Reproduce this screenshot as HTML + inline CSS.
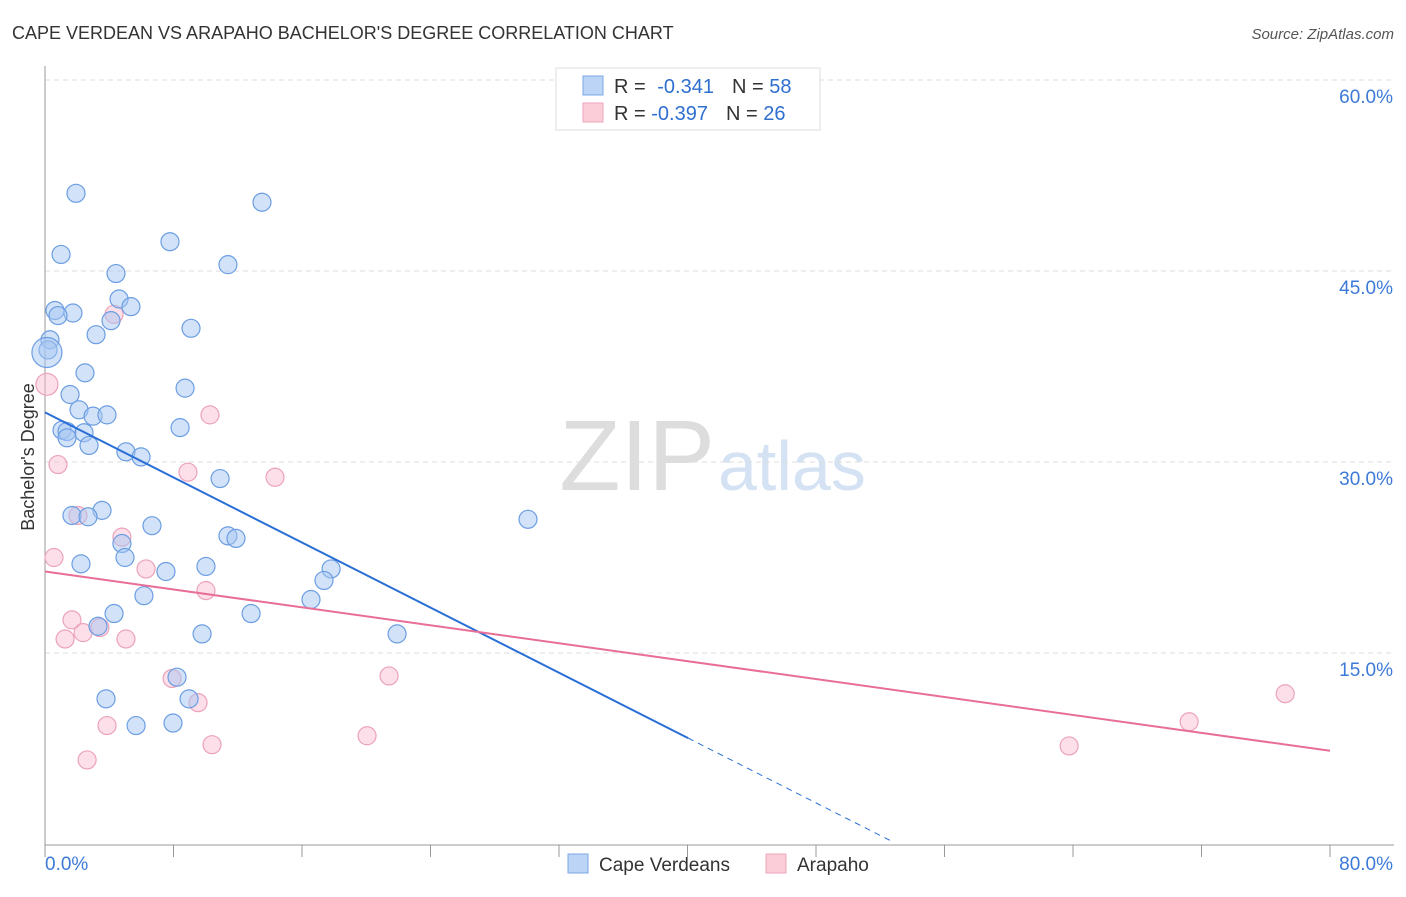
<!DOCTYPE html>
<html><head><meta charset="utf-8"><style>
body{margin:0;background:#fff;font-family:"Liberation Sans",sans-serif}
svg text{font-family:"Liberation Sans",sans-serif}
</style></head><body>
<svg id="chart" width="1406" height="892" viewBox="0 0 1406 892">
<text x="12" y="39" font-size="18" fill="#333">CAPE VERDEAN VS ARAPAHO BACHELOR'S DEGREE CORRELATION CHART</text>
<text x="1394" y="39" font-size="15" fill="#555" font-style="italic" text-anchor="end">Source: ZipAtlas.com</text>
<text x="715" y="490" font-size="100" fill="#ddd" text-anchor="end" font-family="Liberation Serif">ZIP</text>
<text x="718" y="490" font-size="70" fill="#d4e2f4">atlas</text>
<text transform="translate(34,457) rotate(-90)" font-size="18" fill="#333" text-anchor="middle">Bachelor's Degree</text>
<g id="grid"></g><g id="marks"></g>
<g>
<rect x="556" y="68" width="264" height="62" fill="#fff" stroke="#ddd"/>
<rect x="583" y="76" width="20" height="19" fill="#bcd4f6" stroke="#7aa8e6"/>
<rect x="583" y="103" width="20" height="19" fill="#fbcdd9" stroke="#eea6bc"/>
<text x="614" y="93" font-size="20" fill="#333">R = <tspan dx="6" fill="#2f6fd0">-0.341</tspan><tspan dx="18">N = </tspan><tspan fill="#2f6fd0">58</tspan></text>
<text x="614" y="120" font-size="20" fill="#333">R = <tspan fill="#2f6fd0">-0.397</tspan><tspan dx="18">N = </tspan><tspan fill="#2f6fd0">26</tspan></text>
</g>
<g>
<rect x="568" y="854" width="20" height="19" fill="#bcd4f6" stroke="#7aa8e6"/>
<text x="599" y="871" font-size="19" fill="#333">Cape Verdeans</text>
<rect x="766" y="854" width="20" height="19" fill="#fbcdd9" stroke="#eea6bc"/>
<text x="797" y="871" font-size="19" fill="#333">Arapaho</text>
</g>
</svg>
<script>
const blueX=[1.93,13.51,1.0,7.78,4.42,11.39,0.62,1.74,0.81,4.61,5.35,4.11,3.18,9.09,0.31,0.19,0.12,2.49,8.72,1.56,2.12,2.99,3.86,1.06,1.37,8.41,2.43,2.74,1.37,5.04,5.98,10.9,3.55,1.68,2.68,6.66,30.07,11.39,11.89,4.79,4.98,2.24,7.53,10.02,17.81,17.37,6.16,16.56,4.30,12.83,3.30,9.78,21.92,8.22,3.80,8.97,5.67,7.97];
const blueY=[51.1,50.4,46.3,47.3,44.8,45.5,41.9,41.7,41.5,42.8,42.2,41.1,40.0,40.5,39.6,38.8,38.6,37.0,35.8,35.3,34.1,33.6,33.7,32.5,32.4,32.7,32.3,31.3,31.9,30.8,30.4,28.7,26.2,25.8,25.7,25.0,25.5,24.2,24.0,23.6,22.5,22.0,21.4,21.8,21.6,20.7,19.5,19.2,18.1,18.1,17.1,16.5,16.5,13.1,11.4,11.4,9.3,9.5];
const pinkX=[0.12,0.81,8.90,10.27,14.32,4.30,2.05,4.79,0.56,6.29,10.02,1.68,3.42,1.25,2.37,5.04,7.91,9.53,21.42,3.86,10.40,2.62,20.05,63.76,71.23,77.21];
const pinkY=[36.1,29.8,29.2,33.7,28.8,41.6,25.8,24.1,22.5,21.6,19.9,17.6,17.0,16.1,16.6,16.1,13.0,11.1,13.2,9.3,7.8,6.6,8.5,7.7,9.6,11.8];
const yTicks=[15,30,45,60];
const yTickLabels=["15.0%","30.0%","45.0%","60.0%"];
const xTicks=[0,8,16,24,32,40,48,56,64,72,80];
const blueTrend=[33.9,-0.639];
const pinkTrend=[21.4,-0.176];
const blueSolidEnd=40.04, blueDashEnd=52.8;

const X0=45,X1=1330,Y0=844,Y60=80;
const sx=v=>X0+(X1-X0)*v/80;
const sy=v=>Y0-(Y0-Y60)*v/60;
const NS="http://www.w3.org/2000/svg";
function mk(parent,tag,attrs){const e=document.createElementNS(NS,tag);for(const k in attrs)e.setAttribute(k,attrs[k]);parent.appendChild(e);return e;}
const grid=document.getElementById('grid'),marks=document.getElementById('marks');
yTicks.forEach((t,i)=>{
  let l=mk(grid,'line',{x1:X0,x2:1394,y1:sy(t),y2:sy(t),stroke:'#ddd','stroke-dasharray':'5,4'});
  
  
  let tx=mk(grid,'text',{x:1393,y:sy(t)+23,'font-size':19,fill:'#3d7ad8','text-anchor':'end'});
  tx.textContent=yTickLabels[i];
  
  
});
let ya=mk(grid,'line',{x1:X0,x2:X0,y1:66,y2:Y0+1,stroke:'#999'});


let xa=mk(grid,'line',{x1:X0,x2:1394,y1:Y0+1,y2:Y0+1,stroke:'#999'});


xTicks.forEach(t=>{
  let l=mk(grid,'line',{x1:sx(t),x2:sx(t),y1:Y0+1,y2:Y0+13,stroke:'#999'});
  
  
});
let xl=mk(grid,'text',{x:45,y:870,'font-size':19,fill:'#3d7ad8'});xl.textContent='0.0%';


let xr=mk(grid,'text',{x:1393,y:870,'font-size':19,fill:'#3d7ad8','text-anchor':'end'});xr.textContent='80.0%';



pinkX.forEach((x,i)=>{
  let c=mk(marks,'circle',{cx:sx(x),cy:sy(pinkY[i]),r:i==0?11:9,fill:'rgba(248,183,203,0.45)',stroke:'#eca3ba','stroke-width':1.2});
  
  
});
blueX.forEach((x,i)=>{
  let c=mk(marks,'circle',{cx:sx(x),cy:sy(blueY[i]),r:i==16?15:9,fill:'rgba(165,198,242,0.5)',stroke:'#6b9ee2','stroke-width':1.2});
  
  
});
const bt=x=>blueTrend[0]+blueTrend[1]*x, pt=x=>pinkTrend[0]+pinkTrend[1]*x;
let b1=mk(marks,'line',{x1:sx(0),y1:sy(bt(0)),x2:sx(blueSolidEnd),y2:sy(bt(blueSolidEnd)),stroke:'#2a6fd6','stroke-width':2});


let b2=mk(marks,'line',{x1:sx(blueSolidEnd),y1:sy(bt(blueSolidEnd)),x2:sx(blueDashEnd),y2:sy(bt(blueDashEnd)),stroke:'#2a6fd6','stroke-width':1,'stroke-dasharray':'6,5'});


let p1=mk(marks,'line',{x1:sx(0),y1:sy(pt(0)),x2:sx(80),y2:sy(pt(80)),stroke:'#e86e98','stroke-width':2});


</script>
</body></html>
